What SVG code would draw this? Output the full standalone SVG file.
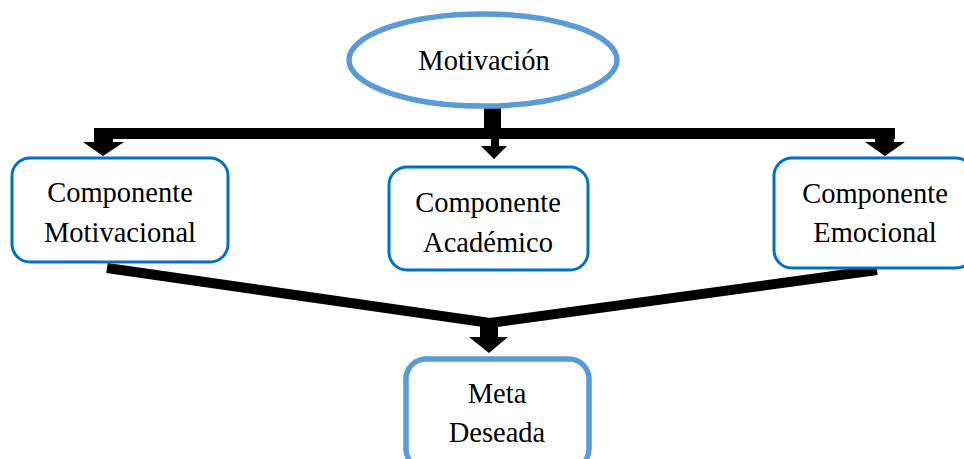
<svg xmlns="http://www.w3.org/2000/svg" width="964" height="459" viewBox="0 0 964 459">
<style>
.t{font-family:"Liberation Serif","Times New Roman",serif;font-size:28.5px;fill:#000;text-anchor:middle}
.box{fill:#fff;stroke:#0070C0;stroke-width:3}
.lt{fill:#fff;stroke:#5B9BD5;stroke-width:5.5}
.k{fill:#000;stroke:none}
</style>
<rect width="964" height="459" fill="#fff"/>
<g id="connectors">
  <rect class="k" x="484" y="105" width="17" height="25"/>
  <rect class="k" x="94" y="128" width="801" height="11"/>
  <polygon class="k" points="94,128 113,128 113,142 124,142 103,156 83,142 94,142"/>
  <polygon class="k" points="875,128 894,128 894,142 905,142 885,156 865,142 875,142"/>
  <polygon class="k" points="491,139 499,139 499,146 507,146 494,159 481,146 491,146"/>
  <path d="M107,268 L490,323 L877,270" fill="none" stroke="#000" stroke-width="10" stroke-linejoin="miter"/>
  <polygon class="k" points="480,322 498,322 498,337 508,337 489,353 469,337 480,337"/>
</g>
<g id="motivacion">
  <ellipse class="lt" cx="483" cy="60" rx="134" ry="46"/>
  <text class="t" x="484" y="70">Motivación</text>
</g>
<g id="comp-motivacional">
  <rect class="box" x="12" y="158" width="216" height="104" rx="18"/>
  <text class="t" x="120" y="202">Componente</text>
  <text class="t" x="120" y="242">Motivacional</text>
</g>
<g id="comp-academico">
  <rect class="box" x="389" y="167" width="199" height="103" rx="18"/>
  <text class="t" x="488" y="212">Componente</text>
  <text class="t" x="488" y="252">Académico</text>
</g>
<g id="comp-emocional">
  <rect class="box" x="774" y="158" width="200" height="110" rx="18"/>
  <text class="t" x="875" y="203">Componente</text>
  <text class="t" x="875" y="242">Emocional</text>
</g>
<g id="meta">
  <rect class="lt" x="406" y="359" width="183" height="110" rx="20"/>
  <text class="t" x="497" y="403">Meta</text>
  <text class="t" x="497" y="442">Deseada</text>
</g>
</svg>
